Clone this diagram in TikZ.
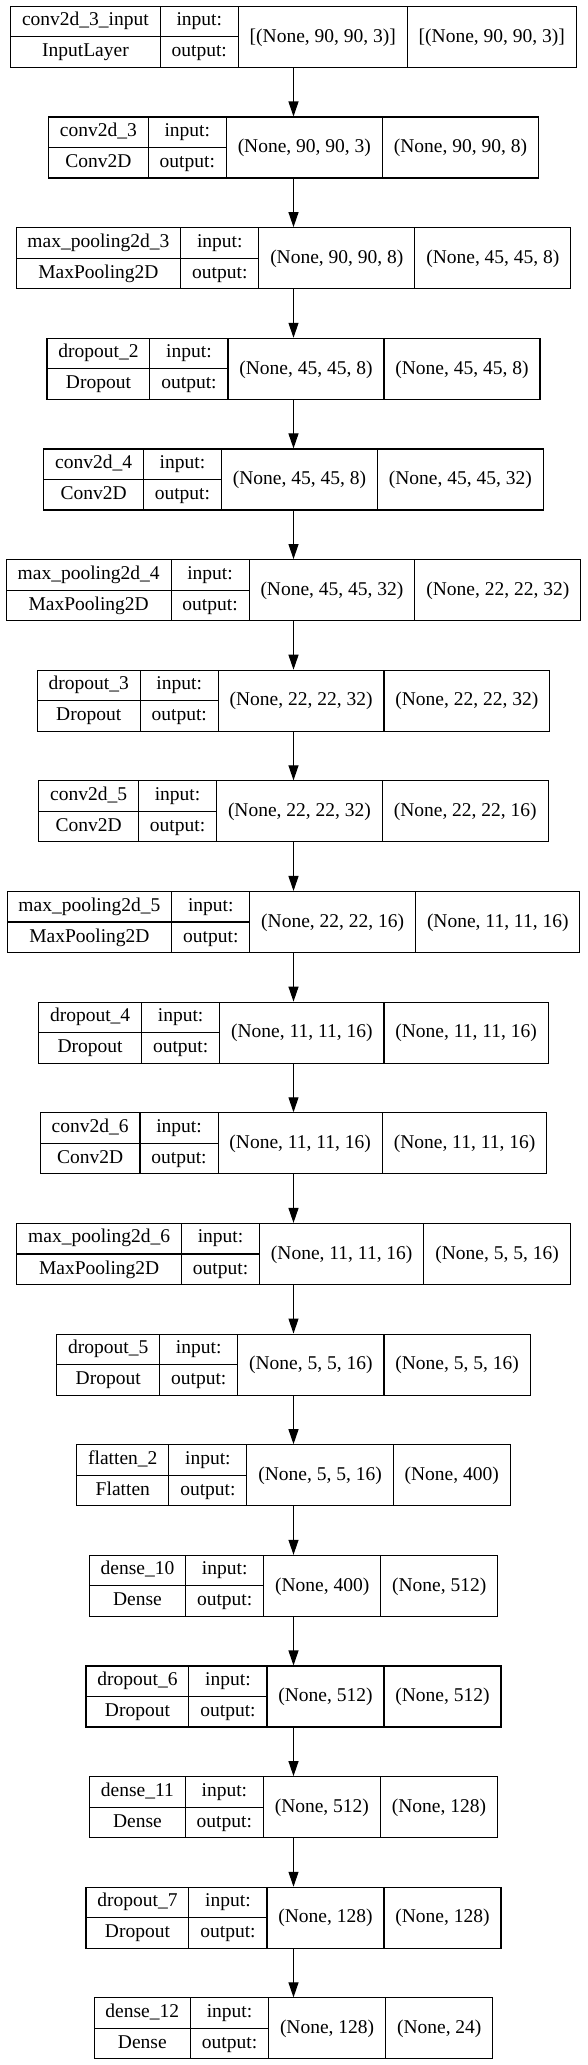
\documentclass[tikz,border=0pt]{standalone}
\usepackage{fontspec}
\setmainfont{Liberation Serif}
\usetikzlibrary{positioning, arrows.meta}

\setlength{\tabcolsep}{11.4pt}
\setlength{\arrayrulewidth}{1.1pt}
\newcommand{\lstrut}{\rule[-10.45pt]{0pt}{29.95pt}}
\newcommand{\kerasrow}[4]{%
  \begin{tabular}{@{}c@{}|c|c}
    \begin{tabular}{c|c}
      \lstrut #1 & input: \\ \hline
      \lstrut #2 & output:
    \end{tabular} & #3 & #4
  \end{tabular}}

\begin{document}
\begin{tikzpicture}[x=1pt,y=1pt,node distance=110.64pt,on grid,
    layer/.style={draw,line width=1.1pt,inner sep=0pt,font=\fontsize{19.5}{23.4}\selectfont}]
  \useasboundingbox (0,0) rectangle (587,-2065);

  \node[layer] (conv2d_3_input) at (293.5,-36.9) {\kerasrow{conv2d\_3\_input}{InputLayer}{[(None, 90, 90, 3)]}{[(None, 90, 90, 3)]}};
  \node[layer] (conv2d_3) [below=of conv2d_3_input] {\kerasrow{conv2d\_3}{Conv2D}{(None, 90, 90, 3)}{(None, 90, 90, 8)}};
  \node[layer] (max_pooling2d_3) [below=of conv2d_3] {\kerasrow{max\_pooling2d\_3}{MaxPooling2D}{(None, 90, 90, 8)}{(None, 45, 45, 8)}};
  \node[layer] (dropout_2) [below=of max_pooling2d_3] {\kerasrow{dropout\_2}{Dropout}{(None, 45, 45, 8)}{(None, 45, 45, 8)}};
  \node[layer] (conv2d_4) [below=of dropout_2] {\kerasrow{conv2d\_4}{Conv2D}{(None, 45, 45, 8)}{(None, 45, 45, 32)}};
  \node[layer] (max_pooling2d_4) [below=of conv2d_4] {\kerasrow{max\_pooling2d\_4}{MaxPooling2D}{(None, 45, 45, 32)}{(None, 22, 22, 32)}};
  \node[layer] (dropout_3) [below=of max_pooling2d_4] {\kerasrow{dropout\_3}{Dropout}{(None, 22, 22, 32)}{(None, 22, 22, 32)}};
  \node[layer] (conv2d_5) [below=of dropout_3] {\kerasrow{conv2d\_5}{Conv2D}{(None, 22, 22, 32)}{(None, 22, 22, 16)}};
  \node[layer] (max_pooling2d_5) [below=of conv2d_5] {\kerasrow{max\_pooling2d\_5}{MaxPooling2D}{(None, 22, 22, 16)}{(None, 11, 11, 16)}};
  \node[layer] (dropout_4) [below=of max_pooling2d_5] {\kerasrow{dropout\_4}{Dropout}{(None, 11, 11, 16)}{(None, 11, 11, 16)}};
  \node[layer] (conv2d_6) [below=of dropout_4] {\kerasrow{conv2d\_6}{Conv2D}{(None, 11, 11, 16)}{(None, 11, 11, 16)}};
  \node[layer] (max_pooling2d_6) [below=of conv2d_6] {\kerasrow{max\_pooling2d\_6}{MaxPooling2D}{(None, 11, 11, 16)}{(None, 5, 5, 16)}};
  \node[layer] (dropout_5) [below=of max_pooling2d_6] {\kerasrow{dropout\_5}{Dropout}{(None, 5, 5, 16)}{(None, 5, 5, 16)}};
  \node[layer] (flatten_2) [below=of dropout_5] {\kerasrow{flatten\_2}{Flatten}{(None, 5, 5, 16)}{(None, 400)}};
  \node[layer] (dense_10) [below=of flatten_2] {\kerasrow{dense\_10}{Dense}{(None, 400)}{(None, 512)}};
  \node[layer] (dropout_6) [below=of dense_10] {\kerasrow{dropout\_6}{Dropout}{(None, 512)}{(None, 512)}};
  \node[layer] (dense_11) [below=of dropout_6] {\kerasrow{dense\_11}{Dense}{(None, 512)}{(None, 128)}};
  \node[layer] (dropout_7) [below=of dense_11] {\kerasrow{dropout\_7}{Dropout}{(None, 128)}{(None, 128)}};
  \node[layer] (dense_12) [below=of dropout_7] {\kerasrow{dense\_12}{Dense}{(None, 128)}{(None, 24)}};

  \path[-{Triangle[length=15pt,width=10pt]},line width=1.1pt]
    (conv2d_3_input) edge (conv2d_3)
    (conv2d_3) edge (max_pooling2d_3)
    (max_pooling2d_3) edge (dropout_2)
    (dropout_2) edge (conv2d_4)
    (conv2d_4) edge (max_pooling2d_4)
    (max_pooling2d_4) edge (dropout_3)
    (dropout_3) edge (conv2d_5)
    (conv2d_5) edge (max_pooling2d_5)
    (max_pooling2d_5) edge (dropout_4)
    (dropout_4) edge (conv2d_6)
    (conv2d_6) edge (max_pooling2d_6)
    (max_pooling2d_6) edge (dropout_5)
    (dropout_5) edge (flatten_2)
    (flatten_2) edge (dense_10)
    (dense_10) edge (dropout_6)
    (dropout_6) edge (dense_11)
    (dense_11) edge (dropout_7)
    (dropout_7) edge (dense_12);
\end{tikzpicture}
\end{document}
